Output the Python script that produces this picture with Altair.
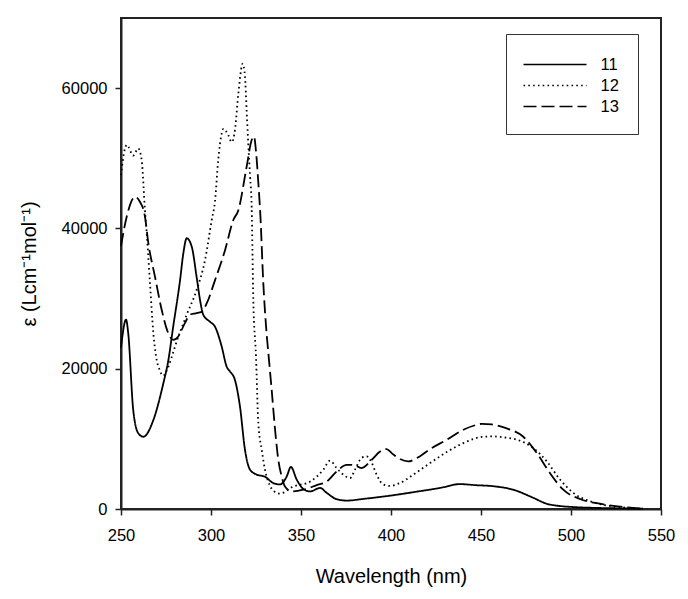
import altair as alt
import pandas as pd

# Series 11 (solid)
nm_11 = [250, 252.8, 254, 256.8, 259.6, 262.4, 268, 273.5, 276.3, 279, 282.8, 284.6, 286.5, 289.3,
         292, 293.9, 295.7, 299.4, 302.2, 305.9, 308.7, 310.6, 313.3, 316.1, 318.9, 321.7, 325.4,
         330, 334.6, 338.3, 342, 344.4, 347.6, 351.3, 355, 360.6, 364.3, 369.8, 375.4, 385, 399.4,
         415, 427.2, 438.3, 447, 456.8, 467.9, 479, 486.5, 493, 501.3, 515, 529, 540]
eps_11 = [23000, 27000, 25100, 14100, 10800, 10300, 12700, 17900, 21200, 26000, 32600, 36400, 38600, 37400,
          33100, 29800, 27700, 26700, 26000, 23200, 20300, 19600, 18400, 14600, 8400, 5600, 4900,
          4600, 3700, 3500, 4600, 6000, 4200, 2850, 2500, 3000, 2300, 1400, 1200, 1450, 1900,
          2500, 3000, 3550, 3400, 3250, 2750, 1600, 750, 450, 280, 150, 85, 40]

# Series 12 (dotted)
nm_12 = [250, 252.2, 253.2, 256.8, 259.6, 261.5, 263.3, 264.3, 266.1, 268, 269.8, 271.5, 273.5, 275.5,
         278, 280, 286.5, 292, 296.7, 300.4, 302.2, 304, 305.9, 306.8, 309.6, 311.5, 313.3, 315.2,
         317.6, 318.9, 319.8, 320.7, 321.7, 322.6, 323.5, 325, 326.3, 328.2, 330, 332.8, 336.5,
         338.3, 345.7, 355, 362.4, 366.1, 369.8, 373.5, 377.2, 380, 383.7, 386.5, 389.3, 392, 395.7,
         399.4, 405, 412.4, 421.7, 431.5, 440.2, 451.3, 456.8, 463, 469.8, 479, 486.5, 493.9, 501.3,
         510.6, 519.8, 530, 540]
eps_12 = [47600, 51400, 51900, 50400, 51400, 49700, 42600, 39300, 32200, 25000, 21300, 19800, 19000, 19800,
          21500, 23150, 27700, 31200, 35500, 41200, 43800, 49700, 53500, 54200, 53300, 52300, 54000, 59200,
          63500, 61600, 56800, 52100, 47400, 43000, 29800, 21700, 12200, 8400, 5600, 3300, 2300,
          2200, 3200, 3900, 5600, 6900, 5840, 4900, 4400, 5600, 7300, 7500, 6600, 4900, 3500,
          3300, 3700, 4900, 6550, 8200, 9400, 10300, 10350, 10200, 9900, 8700, 6800, 4200, 2300,
          1100, 500, 200, 40]

# Series 13 (dashed)
nm_13 = [250, 253.2, 257.8, 260.5, 263.3, 265.2, 268.9, 272.6, 276.3, 279, 281.8, 285.5, 288.3, 291.5,
         294.8, 297.6, 302.2, 307.8, 312.4, 315.2, 319.8, 322.6, 323.9, 325, 326.3, 327.5, 329, 330.9,
         332.2, 333.7, 335.6, 337.4, 339.3, 341.1, 344.8, 351.3, 358.7, 364.3, 369.8, 375.4, 379,
         383.7, 389.3, 393.9, 397.6, 400.4, 405, 409.6, 414.3, 421.7, 431, 440.2, 447.6, 450.5, 456,
         464.3, 473.5, 481, 488.3, 495.7, 505, 516.1, 529, 540]
eps_13 = [37500, 41700, 44500, 43800, 41700, 37900, 33100, 28400, 25050, 24100, 24600, 26500, 27700, 27900,
          28100, 29300, 32600, 36900, 41200, 42600, 48800, 52600, 53100, 51000, 46500, 41500, 32500, 25000,
          21300, 17000, 11300, 7000, 4600, 3200, 2500, 2750, 3400, 3900, 5350, 6300, 6300,
          5840, 7020, 8200, 8540, 7970, 7120, 6780, 7260, 8540, 9870, 11300, 12000, 12150, 12050,
          11500, 10300, 7970, 5120, 2750, 1420, 750, 280, 40]

series_names = ["11", "12", "13"]
x_ticks = [250, 300, 350, 400, 450, 500, 550]
y_ticks = [0, 20000, 40000, 60000]

frames = []
for name, xs, ys in zip(series_names, [nm_11, nm_12, nm_13], [eps_11, eps_12, eps_13]):
    frames.append(pd.DataFrame({"nm": xs, "eps": ys, "series": name}))
df = pd.concat(frames, ignore_index=True)

FONT = "Liberation Sans"

chart = alt.Chart(df).mark_line(
    color="black", strokeWidth=1.8, interpolate="monotone"
).encode(
    x=alt.X("nm:Q", scale=alt.Scale(domain=[250, 550], nice=False, zero=False),
            axis=alt.Axis(title="Wavelength (nm)", values=x_ticks, format="d", labelFlush=False)),
    y=alt.Y("eps:Q", scale=alt.Scale(domain=[0, 70000], nice=False),
            axis=alt.Axis(title="ε (Lcm⁻¹mol⁻¹)", values=y_ticks, format="d", labelFlush=False)),
    strokeDash=alt.StrokeDash(
        "series:N",
        scale=alt.Scale(domain=series_names, range=[[1, 0], [1.6, 3.2], [13, 5]]),
        legend=alt.Legend(
            title=None, orient="none", legendX=385, legendY=16,
            symbolType="M-3,0H3", symbolSize=441, symbolStrokeWidth=1.6,
            symbolStrokeColor="black", symbolOffset=18.5,
            labelFont=FONT, labelFontSize=16.5,
            labelColor="black", strokeColor="#333", fillColor="white",
            padding=19, rowPadding=1, labelOffset=34,
        ),
    ),
    detail="series:N",
).properties(
    width=540, height=491,
    autosize=alt.AutoSizeParams(type="none"),
    padding={"left": 113, "top": 10, "right": 19, "bottom": 80},
).configure_view(
    stroke="#222", strokeWidth=2
).configure_axis(
    grid=False, domainColor="#222", domainWidth=2, tickColor="#222", tickWidth=1.5,
    tickSize=6, labelFont=FONT, labelFontSize=16.5, labelColor="black",
    titleFont=FONT, titleFontSize=20, titleFontWeight="normal", titleColor="black",
).configure_axisX(
    labelPadding=12, titlePadding=23
).configure_axisY(
    labelPadding=8, titlePadding=22
)

chart.save("out.html", embed_options={"renderer": "svg", "actions": False})
